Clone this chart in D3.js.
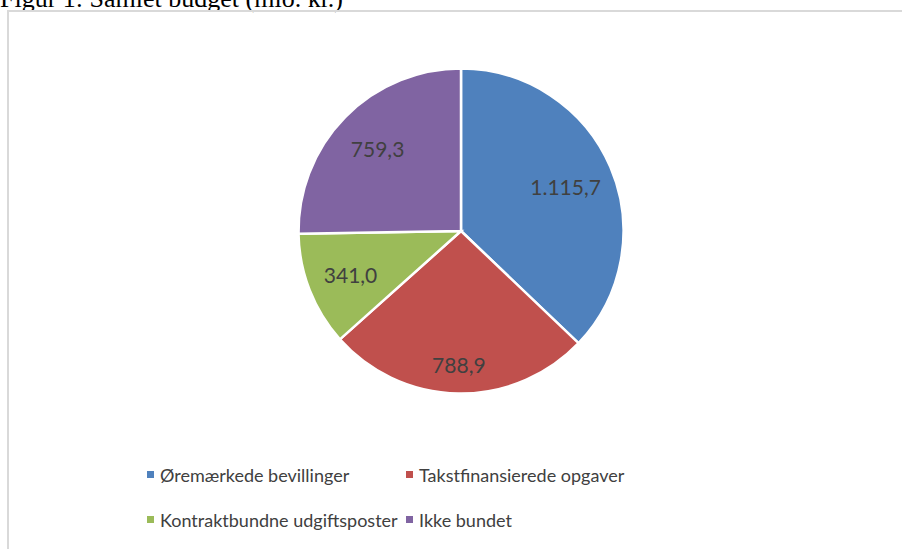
<!DOCTYPE html>
<html>
<head>
<meta charset="utf-8">
<script src="https://cdn.jsdelivr.net/npm/d3@7"></script>
<style>
  html, body { margin: 0; padding: 0; background: #fff; }
  svg { display: block; }
</style>
</head>
<body>
<svg id="chart" width="902" height="549"></svg>
<script>
const categories = ["Øremærkede bevillinger", "Takstfinansierede opgaver", "Kontraktbundne udgiftsposter", "Ikke bundet"];
const values = [1115.7, 788.9, 341.0, 759.3];
const labels = ["1.115,7", "788,9", "341,0", "759,3"];
const colors = ["#4F81BD", "#C0504D", "#9BBB59", "#8064A2"];
const labelRadiusFactor = [0.70, 0.82, 0.73, 0.72];
const title = "Figur 1: Samlet budget (mio. kr.)";

const svg = d3.select("#chart");
const W = 902, H = 549;

// title (cut off at top, as in the reference)
svg.append("text")
  .attr("x", 0).attr("y", 7)
  .attr("font-family", "'Liberation Serif', 'Times New Roman', serif")
  .attr("font-size", 26)
  .attr("fill", "#000")
  .text(title);

// chart frame
svg.append("path")
  .attr("d", `M8,${H + 5} L8,11 L${W + 5},11`)
  .attr("fill", "none")
  .attr("stroke", "#d9d9d9")
  .attr("stroke-width", 2);

const cx = 461, cy = 231, R = 162.5;
const pie = d3.pie().value(d => d).sort(null);
const arcs = pie(values);
const arc = d3.arc().innerRadius(0).outerRadius(R);

const g = svg.append("g").attr("transform", `translate(${cx},${cy})`);
g.selectAll("path.slice")
  .data(arcs)
  .enter().append("path")
  .attr("class", "slice")
  .attr("d", arc)
  .attr("fill", (d, i) => colors[i])
  .attr("stroke", "#fff")
  .attr("stroke-width", 2.5)
  .attr("stroke-linejoin", "miter");

g.selectAll("text.lbl")
  .data(arcs)
  .enter().append("text")
  .attr("class", "lbl")
  .attr("transform", (d, i) => {
    const a = (d.startAngle + d.endAngle) / 2;
    const r = R * labelRadiusFactor[i];
    return `translate(${r * Math.sin(a)},${-r * Math.cos(a)})`;
  })
  .attr("text-anchor", "middle")
  .attr("dominant-baseline", "central")
  .attr("font-family", "Lato, 'Open Sans', sans-serif")
  .attr("font-size", 21)
  .attr("fill", "#404040")
  .text((d, i) => labels[i]);

// legend
const colX = [147, 406];
const rowY = [475, 520];
const leg = svg.append("g");
categories.forEach((c, i) => {
  const x = colX[i % 2], y = rowY[Math.floor(i / 2)];
  leg.append("rect")
    .attr("x", x).attr("y", y - 4)
    .attr("width", 7).attr("height", 7)
    .attr("fill", colors[i]);
  leg.append("text")
    .attr("x", x + 13).attr("y", y)
    .attr("dominant-baseline", "central")
    .attr("font-family", "Lato, 'Open Sans', sans-serif")
    .attr("font-size", 18)
    .attr("fill", "#404040")
    .text(c);
});
</script>
</body>
</html>
